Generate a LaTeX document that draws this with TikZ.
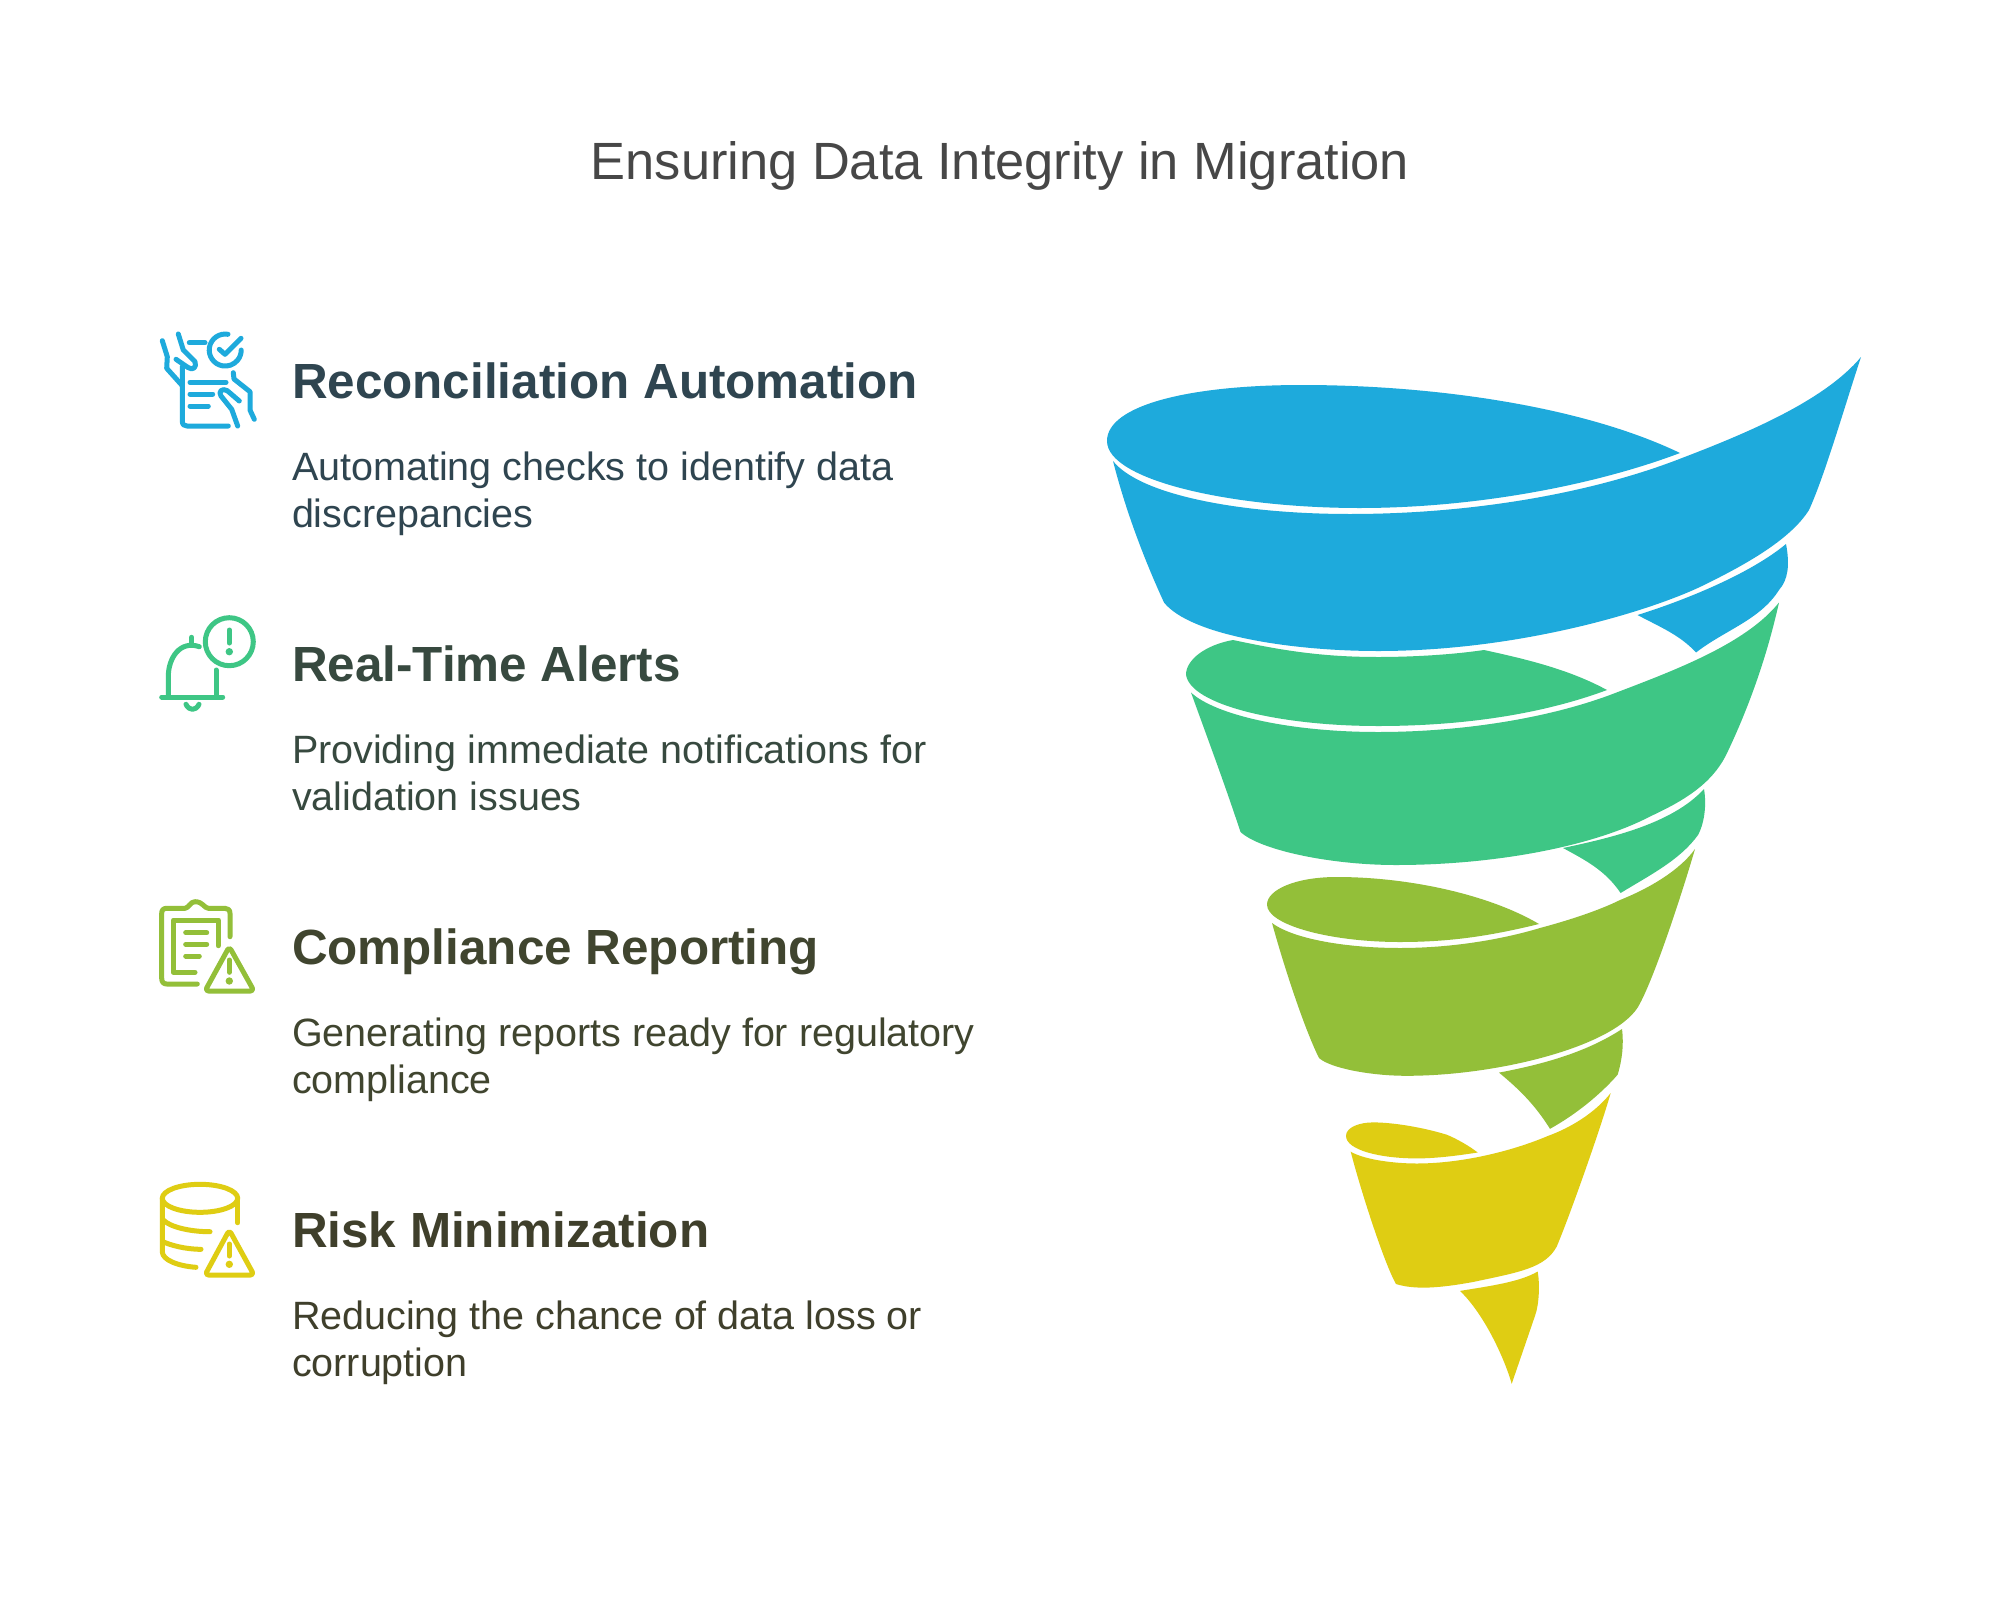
\documentclass[tikz,border=0pt]{standalone}
\usepackage{fontspec}
\setmainfont{Liberation Sans}
\usepackage{xcolor}
\usepackage{tikz}
\usetikzlibrary{positioning}
\definecolor{tblue}{HTML}{1EAADC}
\definecolor{tgreen}{HTML}{3EC685}
\definecolor{tolive}{HTML}{93BF39}
\definecolor{tyellow}{HTML}{DFCD13}
\definecolor{inkblue}{HTML}{2F4550}
\definecolor{inkgreen}{HTML}{37493F}
\definecolor{inkolive}{HTML}{40452F}
\definecolor{inkyellow}{HTML}{3F3F2B}
\begin{document}
\begin{tikzpicture}[
        x=1pt, y=-1pt,
        every node/.style={inner sep=0pt, outer sep=0pt},
        titletext/.style={text=black!72, font=\fontsize{52.4}{60}\selectfont},
        headtext/.style={anchor=base west, font=\fontsize{49.4}{58}\bfseries\selectfont},
        bodytext/.style={anchor=north west, align=left, font=\fontsize{39.5}{46.5}\selectfont},
        icon/.style={line width=5pt, line cap=round, line join=round}
        ]
        \useasboundingbox (0,0) rectangle (2000,1611);
        \fill[white] (0,0) rectangle (2000,1611);

        \node[titletext] (title) at (1000,166) {Ensuring Data Integrity in Migration};

        \node[headtext, text=inkblue] (head1) at (292,398) {Reconciliation Automation};
        \node[bodytext, text=inkblue, below=54pt of head1.base west, anchor=north west] (body1)
          {Automating checks to identify data\\discrepancies};
        \node[headtext, text=inkgreen] (head2) at (292,681) {Real-Time Alerts};
        \node[bodytext, text=inkgreen, below=54pt of head2.base west, anchor=north west] (body2)
          {Providing immediate notifications for\\validation issues};
        \node[headtext, text=inkolive] (head3) at (292,964) {Compliance Reporting};
        \node[bodytext, text=inkolive, below=54pt of head3.base west, anchor=north west] (body3)
          {Generating reports ready for regulatory\\compliance};
        \node[headtext, text=inkyellow] (head4) at (292,1247) {Risk Minimization};
        \node[bodytext, text=inkyellow, below=54pt of head4.base west, anchor=north west] (body4)
          {Reducing the chance of data loss or\\corruption};

        % reconciliation icon
        \draw[icon, tblue] (182.3,366.7) -- (182.3,421) .. controls (182.3,424.5) and (184,426) .. (187,426) -- (228.3,426);
        \draw[icon, tblue] (189.3,342.7) -- (205,342.7);
        \draw[icon, tblue] (190,382.3) -- (226,382.3);
        \draw[icon, tblue] (190,394) -- (212.7,394);
        \draw[icon, tblue] (190,406) -- (208.3,406);
        \draw[icon, tblue] (228,334.3) arc (-80:-360:16);
        \draw[icon, tblue] (219.3,349.3) -- (225,354.3) -- (241,338.3);
        \draw[icon, tblue] (162.3,340.7) -- (167.3,356.7) -- (166.7,368.3) -- (181.7,385);
        \draw[icon, tblue] (178.3,334) -- (183.3,350) -- (195,361.7) .. controls (197,367) and (193,371) .. (188,367.5) -- (176,359.3);
        \draw[icon, tblue] (233.3,372.7) -- (234,379) -- (250,391.7) -- (250,410) -- (254.3,419.3);
        \draw[icon, tblue] (239.3,401) -- (227.3,390.7) .. controls (222,387.5) and (218,392) .. (221,396) -- (231.7,409.3) -- (237.7,426);

        % alerts icon
        \draw[icon, tgreen] (229.3,641.7) circle (24);
        \draw[icon, tgreen] (229.3,630) -- (229.3,643);
        \fill[tgreen] (229.3,651.7) circle (3.7);
        \draw[icon, tgreen] (191.7,637.3) -- (191.7,645);
        \draw[icon, tgreen] (199.3,646.7) .. controls (180,640) and (168.3,658) .. (168.3,676.7) -- (168.3,696.7);
        \draw[icon, tgreen] (216,670) -- (216,696.7);
        \draw[icon, tgreen] (161.7,697) -- (222.7,697);
        \draw[icon, tgreen] (186,704.3) .. controls (189,711) and (196,711) .. (199,704.3);

        % compliance icon
        \draw[icon, tolive] (230,936.7) -- (230,913.3) .. controls (230,910) and (228,908.3) .. (225,908.3) -- (208.3,908.3)
          .. controls (204,908) and (203,901.7) .. (195,901.7) .. controls (190,901.7) and (189,908) .. (185,908.3)
          -- (166.7,908.3) .. controls (163.5,908.3) and (161.7,910) .. (161.7,913.3) -- (161.7,978.3)
          .. controls (161.7,982) and (163.5,984) .. (166.7,984) -- (197.3,984);
        \draw[icon, tolive] (218.3,945.7) -- (218.3,920) -- (173.3,920) -- (173.3,972.3) -- (195,972.3);
        \draw[icon, tolive] (185.7,932.7) -- (206.7,932.7);
        \draw[icon, tolive] (185.7,944.3) -- (206.7,944.3);
        \draw[icon, tolive] (185.7,956) -- (199.3,956);
        \draw[icon, tolive, rounded corners=3.5pt] (229.3,946.7) -- (254,991) -- (205,991) -- cycle;
        \draw[icon, tolive] (229.3,960) -- (229.3,972.3);
        \fill[tolive] (229.3,981) circle (3.7);

        % risk icon
        \draw[icon, tyellow] (200,1198.3) ellipse (37.7 and 14);
        \draw[icon, tyellow] (237.7,1198) -- (237.7,1222.7);
        \draw[icon, tyellow] (162.3,1198) -- (162.3,1251.7) .. controls (162.3,1260) and (178,1266) .. (196,1267.3);
        \draw[icon, tyellow] (163.3,1220) .. controls (170,1227) and (190,1231.7) .. (210,1231.7);
        \draw[icon, tyellow] (163,1241.7) .. controls (170,1245) and (185,1249.3) .. (201,1249.3);
        \draw[icon, tyellow, rounded corners=3.5pt] (229.3,1230) -- (254,1275) -- (205,1275) -- cycle;
        \draw[icon, tyellow] (229.3,1244) -- (229.3,1256);
        \fill[tyellow] (229.3,1264.3) circle (3.7);

        % blue turn
        \fill[tblue] (1107,441) .. controls (1107,405) and (1190,385) .. (1302,385)
          .. controls (1430,385) and (1580,405) .. (1680,453)
          .. controls (1590,487) and (1470,508) .. (1360,508)
          .. controls (1230,508) and (1107,480) .. (1107,441) -- cycle;
        \fill[tblue] (1113,461) .. controls (1140,495) and (1240,514) .. (1350,514)
          .. controls (1470,514) and (1590,494) .. (1682,458)
          .. controls (1750,432) and (1825,400) .. (1861,357)
          .. controls (1845,405) and (1825,475) .. (1809,510)
          .. controls (1790,540) and (1745,565) .. (1702,586)
          .. controls (1650,611) and (1520,651) .. (1378,651)
          .. controls (1290,651) and (1190,635) .. (1164,602.5)
          .. controls (1150,572) and (1128,520) .. (1113,461) -- cycle;
        \fill[tblue] (1786,544) .. controls (1790,565) and (1788,580) .. (1779,590)
          .. controls (1760,620) and (1725,630) .. (1696,652.5)
          .. controls (1680,635) and (1660,627) .. (1637.5,615)
          .. controls (1670,605) and (1745,578) .. (1786,544) -- cycle;

        % green turn
        \fill[tgreen] (1233,640) .. controls (1205,645) and (1186,660) .. (1186,674.6)
          .. controls (1190,705) and (1280,726) .. (1378,726)
          .. controls (1460,726) and (1540,715) .. (1607,690)
          .. controls (1570,670) and (1530,660) .. (1484,650)
          .. controls (1450,655) and (1410,657) .. (1378,657)
          .. controls (1320,657) and (1280,650) .. (1233,640) -- cycle;
        \fill[tgreen] (1191,692.5) .. controls (1215,715) and (1290,732) .. (1378,732)
          .. controls (1460,732) and (1545,719) .. (1610,695)
          .. controls (1670,672) and (1745,645) .. (1779,602.5)
          .. controls (1765,665) and (1745,715) .. (1728,751)
          .. controls (1715,780) and (1690,798) .. (1651,816)
          .. controls (1590,848) and (1490,865) .. (1396,865)
          .. controls (1330,865) and (1260,850) .. (1240.5,832)
          .. controls (1225,785) and (1210,745) .. (1191,692.5) -- cycle;
        \fill[tgreen] (1704,789) .. controls (1706,800) and (1706,820) .. (1698,835)
          .. controls (1680,860) and (1650,875) .. (1620.6,893)
          .. controls (1605,870) and (1585,860) .. (1563,848)
          .. controls (1610,838) and (1672,824) .. (1704,789) -- cycle;

        % olive turn
        \fill[tolive] (1267,904.6) .. controls (1267,890) and (1295,877) .. (1336.7,877)
          .. controls (1410,877) and (1490,895) .. (1539,924)
          .. controls (1490,936) and (1450,942) .. (1400,942)
          .. controls (1330,942) and (1267,925) .. (1267,904.6) -- cycle;
        \fill[tolive] (1272,923) .. controls (1295,940) and (1350,948) .. (1400,948)
          .. controls (1450,948) and (1500,940) .. (1540,928)
          .. controls (1570,920) and (1600,910) .. (1620,900)
          .. controls (1650,888) and (1680,870) .. (1695,849)
          .. controls (1680,900) and (1655,975) .. (1640,1003.4)
          .. controls (1620,1045) and (1500,1075.8) .. (1406.7,1075.8)
          .. controls (1370,1075.8) and (1330,1068) .. (1319,1058)
          .. controls (1305,1030) and (1285,970) .. (1272,923) -- cycle;
        \fill[tolive] (1622,1029) .. controls (1624,1045) and (1622,1060) .. (1617.7,1074.6)
          .. controls (1600,1095) and (1575,1115) .. (1550,1128.8)
          .. controls (1535,1105) and (1520,1090) .. (1499,1072.6)
          .. controls (1550,1063) and (1590,1050) .. (1622,1029) -- cycle;

        % yellow turn
        \fill[tyellow] (1346,1135.9) .. controls (1346,1127) and (1360,1122.4) .. (1373,1122.4)
          .. controls (1395,1122.4) and (1425,1128) .. (1446.7,1134.7)
          .. controls (1455,1138) and (1468,1145) .. (1477.7,1152.5)
          .. controls (1455,1156) and (1435,1158.4) .. (1416.7,1158.4)
          .. controls (1380,1158.4) and (1346,1150) .. (1346,1135.9) -- cycle;
        \fill[tyellow] (1350.7,1151.7) .. controls (1365,1160) and (1395,1163.5) .. (1416.7,1163.5)
          .. controls (1460,1163.5) and (1510,1152) .. (1548,1135.9)
          .. controls (1570,1128) and (1595,1113) .. (1610.7,1093)
          .. controls (1600,1130) and (1570,1215) .. (1556.7,1246.6)
          .. controls (1545,1268) and (1520,1272) .. (1473,1282)
          .. controls (1440,1288) and (1415,1290) .. (1396,1284)
          .. controls (1385,1265) and (1362,1195) .. (1350.7,1151.7) -- cycle;
        \fill[tyellow] (1537.7,1271.5) .. controls (1540,1285) and (1539,1305) .. (1535,1315.8)
          -- (1511.7,1383.8)
          .. controls (1505,1360) and (1485,1315) .. (1460,1290.9)
          .. controls (1490,1286) and (1520,1282) .. (1537.7,1271.5) -- cycle;
\end{tikzpicture}
\end{document}
